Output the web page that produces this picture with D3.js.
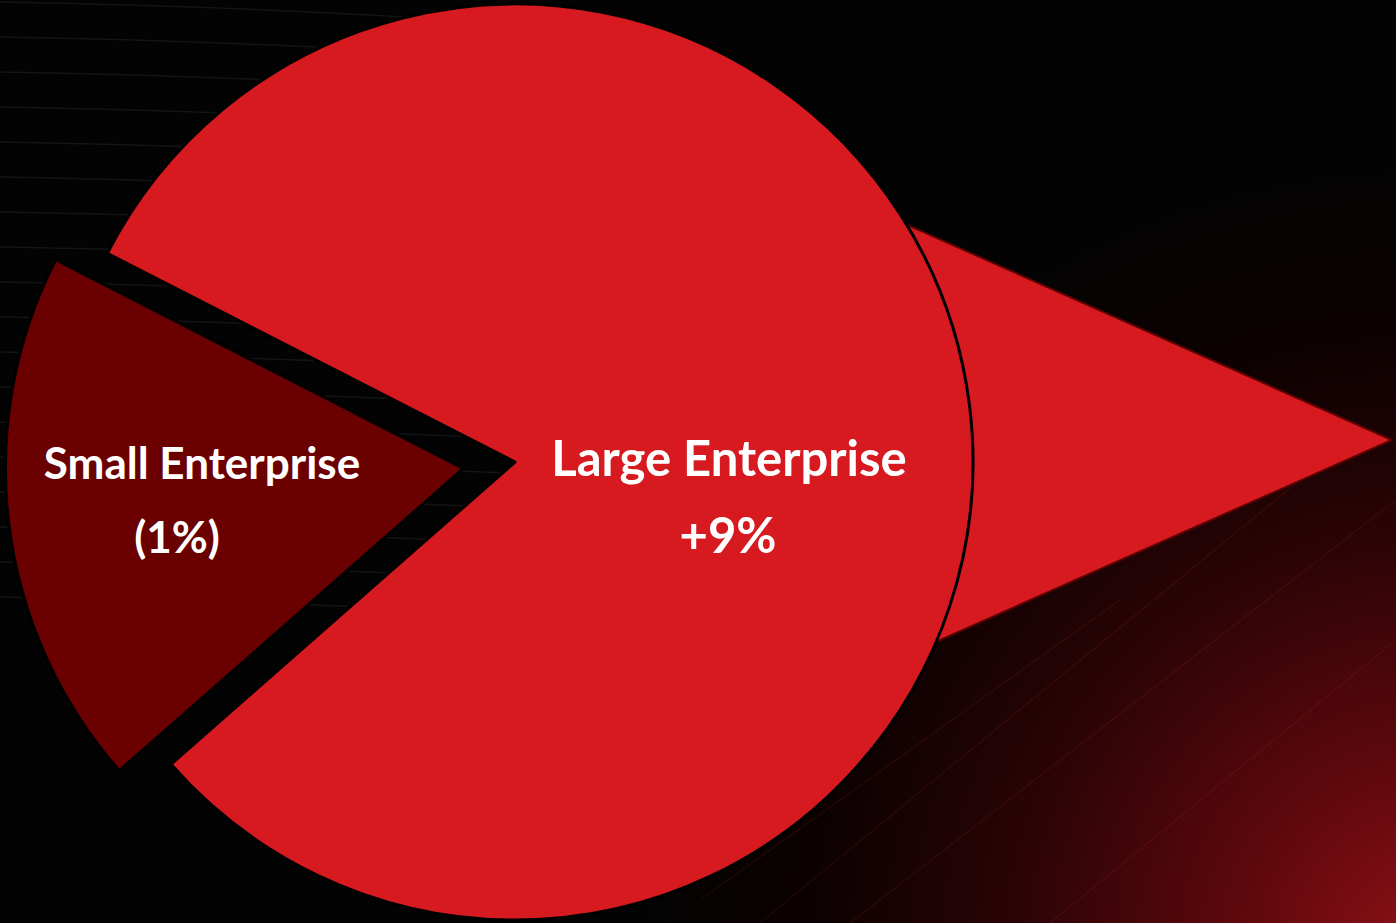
<!DOCTYPE html>
<html>
<head>
<meta charset="utf-8">
<script src="https://cdn.jsdelivr.net/npm/d3@7"></script>
<style>
  html, body { margin: 0; padding: 0; background: #030303; overflow: hidden; }
  svg { display: block; }
</style>
</head>
<body>
<div id="chart"></div>
<script>
// segment data
const segments = ["Large Enterprise", "Small Enterprise"];
const shares = [81, 19];
const growthLabels = ["+9%", "(1%)"];
const sliceColors = ["#d71920", "#6b0000"];

const width = 1396;
const height = 923;

const svg = d3.select("#chart")
    .append("svg")
    .attr("width", width)
    .attr("height", height);

const defs = svg.append("defs");

// red glow in the bottom right corner
const glow = defs.append("radialGradient")
    .attr("id", "glow")
    .attr("gradientUnits", "userSpaceOnUse")
    .attr("cx", 1430).attr("cy", 950).attr("r", 1000);
glow.append("stop").attr("offset", "0").attr("stop-color", "#8e1117");
glow.append("stop").attr("offset", "0.2").attr("stop-color", "#5c080c");
glow.append("stop").attr("offset", "0.42").attr("stop-color", "#2a0406");
glow.append("stop").attr("offset", "0.62").attr("stop-color", "#0c0101");
glow.append("stop").attr("offset", "0.8").attr("stop-color", "#030303");

svg.append("rect")
    .attr("width", width)
    .attr("height", height)
    .attr("fill", "url(#glow)");

// faint streaks in the upper left
const streaks = svg.append("g")
    .attr("fill", "none")
    .attr("stroke", "#ffffff")
    .attr("stroke-opacity", 0.07)
    .attr("stroke-width", 1.5);
d3.range(0, 18).forEach(i => {
    const y0 = 2 + i * 35;
    streaks.append("path")
        .attr("d", `M0,${y0} Q250,${y0 + 4} ${520 + i * 10},${y0 + 22}`);
});

// faint diagonal streaks in the lower right
const rays = svg.append("g")
    .attr("stroke", "#ff4040")
    .attr("stroke-opacity", 0.09)
    .attr("stroke-width", 1.5);
[[760, 923, 1300, 480], [850, 923, 1396, 500], [1050, 923, 1396, 640], [700, 900, 1120, 600]].forEach(l => {
    rays.append("line")
        .attr("x1", l[0]).attr("y1", l[1])
        .attr("x2", l[2]).attr("y2", l[3]);
});

// pie geometry
const cx = 515;
const cy = 462;
const radius = 458;
const explode = 52;

const startAngle = -62.9 * Math.PI / 180;

const pie = d3.pie()
    .sort(null)
    .startAngle(startAngle)
    .endAngle(startAngle + 2 * Math.PI)
    .value(d => d);

const arcs = pie(shares);

const arc = d3.arc()
    .innerRadius(0)
    .outerRadius(radius);

// arrow behind the large slice
svg.append("path")
    .attr("d", d3.line()([
        [cx + radius * 0.55, cy - radius * 0.654],
        [cx + radius * 1.915, cy - radius * 0.048],
        [cx + radius * 0.55, cy + radius * 0.556]
    ]) + "Z")
    .attr("fill", "#d71920")
    .attr("stroke", "#5a0000")
    .attr("stroke-width", 2);

const g = svg.append("g")
    .attr("transform", `translate(${cx},${cy})`);

g.selectAll("path.slice")
    .data(arcs)
    .enter()
    .append("path")
    .attr("class", "slice")
    .attr("transform", (d, i) => {
        if (i === 0) return null;
        const mid = (d.startAngle + d.endAngle) / 2;
        return `translate(${Math.sin(mid) * explode},${-Math.cos(mid) * explode})`;
    })
    .attr("d", arc)
    .attr("fill", (d, i) => sliceColors[i])
    .attr("stroke", "#000")
    .attr("stroke-width", 3)
    .attr("stroke-linejoin", "round");

// labels (baseline offsets from the pie centre)
const labelPos = [
    { name: [214, 14], value: [213, 91], size: 49 },
    { name: [-313, 17], value: [-338, 91], size: 44 }
];

const labels = g.append("g")
    .attr("font-family", "Lato, 'Open Sans', sans-serif")
    .attr("font-weight", "bold")
    .attr("fill", "#ffffff")
    .attr("text-anchor", "middle");

segments.forEach((s, i) => {
    labels.append("text")
        .attr("x", labelPos[i].name[0])
        .attr("y", labelPos[i].name[1])
        .attr("font-size", labelPos[i].size)
        .text(s);
    labels.append("text")
        .attr("x", labelPos[i].value[0])
        .attr("y", labelPos[i].value[1])
        .attr("font-size", labelPos[i].size)
        .text(growthLabels[i]);
});
</script>
</body>
</html>
